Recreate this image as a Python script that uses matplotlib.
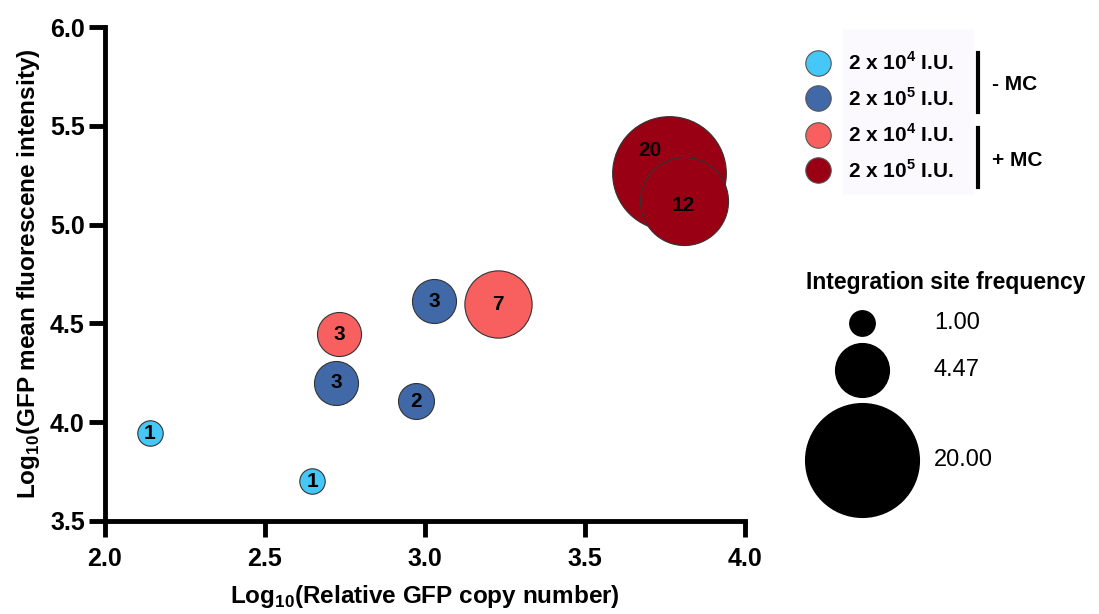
import matplotlib.pyplot as plt
import numpy as np

plt.rcParams['font.family'] = ['Liberation Sans', 'DejaVu Sans']
plt.rcParams['mathtext.fontset'] = 'custom'
plt.rcParams['mathtext.rm'] = 'Liberation Sans'
plt.rcParams['mathtext.bf'] = 'Liberation Sans:bold'

#### data
groups = ['2e4 -MC', '2e5 -MC', '2e4 +MC', '2e5 +MC']
colors = ['#45C8F7', '#4169A8', '#F86060', '#9A0014']
copy_number = [[2.14, 2.647], [2.722, 2.972, 3.028], [2.731, 3.228], [3.762, 3.808]]
mfi = [[3.945, 3.70], [4.20, 4.107, 4.613], [4.446, 4.598], [5.261, 5.117]]
frequency = [[1, 1], [3, 2, 3], [3, 7], [20, 12]]

legend_labels = [r'2 x 10$^{\mathbf{4}}$ I.U.', r'2 x 10$^{\mathbf{5}}$ I.U.',
                 r'2 x 10$^{\mathbf{4}}$ I.U.', r'2 x 10$^{\mathbf{5}}$ I.U.']
size_values = [1.00, 4.47, 20.00]

s_unit = 335  # marker area (pt^2) for frequency 1

fig = plt.figure(figsize=(10.99, 6.14), dpi=100)
ax = fig.add_axes([0.0955, 0.1515, 0.5825, 0.8045])

for g in range(len(groups)):
    for x, y, f in zip(copy_number[g], mfi[g], frequency[g]):
        ax.scatter(x, y, s=s_unit * f, color=colors[g], edgecolor='#333333',
                   linewidth=0.8, zorder=3, clip_on=False)
        dx, dy = (0, 0)
        if f == 20:
            dx, dy = (-13.5, 16.5)
        if f == 12:
            dy = -3
        ax.annotate(str(f), (x, y), xytext=(dx, dy), textcoords='offset points',
                    ha='center', va='center', fontsize=15, fontweight='bold', zorder=4)

ax.set_xlim(2.0, 4.0)
ax.set_ylim(3.5, 6.0)
ax.set_xticks([2.0, 2.5, 3.0, 3.5, 4.0])
ax.set_yticks([3.5, 4.0, 4.5, 5.0, 5.5, 6.0])
ax.xaxis.set_major_formatter(plt.FormatStrFormatter('%.1f'))
ax.yaxis.set_major_formatter(plt.FormatStrFormatter('%.1f'))
for sp in ['top', 'right']:
    ax.spines[sp].set_visible(False)
for sp in ['left', 'bottom']:
    ax.spines[sp].set_linewidth(3.5)
ax.tick_params(width=3.5, length=11.5, labelsize=18)
ax.tick_params(axis='x', pad=7)
ax.tick_params(axis='y', pad=3)
for lab in ax.get_xticklabels() + ax.get_yticklabels():
    lab.set_fontweight('bold')
ax.set_xlabel(r'Log$_{\mathbf{10}}$(Relative GFP copy number)', fontsize=17.5,
              fontweight='bold', labelpad=9)
ax.set_ylabel(r'Log$_{\mathbf{10}}$(GFP mean fluorescene intensity)', fontsize=17.5,
              fontweight='bold', labelpad=6)

# legends drawn in pixel coordinates on an overlay
lax = fig.add_axes([0, 0, 1, 1])
lax.set_xlim(0, 1099)
lax.set_ylim(614, 0)
lax.axis('off')
lax.add_patch(plt.Rectangle((843, 30), 130, 163, color='#FBF9FE', zorder=0))
leg_y = [63, 98, 135, 170]
for i in range(4):
    lax.scatter(818, leg_y[i], s=s_unit, color=colors[i], edgecolor='#555555', linewidth=0.8)
    lax.text(848, leg_y[i], legend_labels[i], fontsize=15, fontweight='bold', va='center')
lax.plot([978, 978], [53, 112], color='black', lw=3)
lax.plot([978, 978], [128, 187], color='black', lw=3)
lax.text(992, 85, '- MC', fontsize=15, fontweight='bold', va='center')
lax.text(992, 160, '+ MC', fontsize=15, fontweight='bold', va='center')

lax.text(806, 282, 'Integration site frequency', fontsize=16.5, fontweight='bold', va='center')
size_y = [323, 370, 460]
for v, y in zip(size_values, size_y):
    lax.scatter(862, y, s=s_unit * v, color='black')
    lax.text(934, y, '%.2f' % v, fontsize=17, va='center')

plt.savefig('out.png')
